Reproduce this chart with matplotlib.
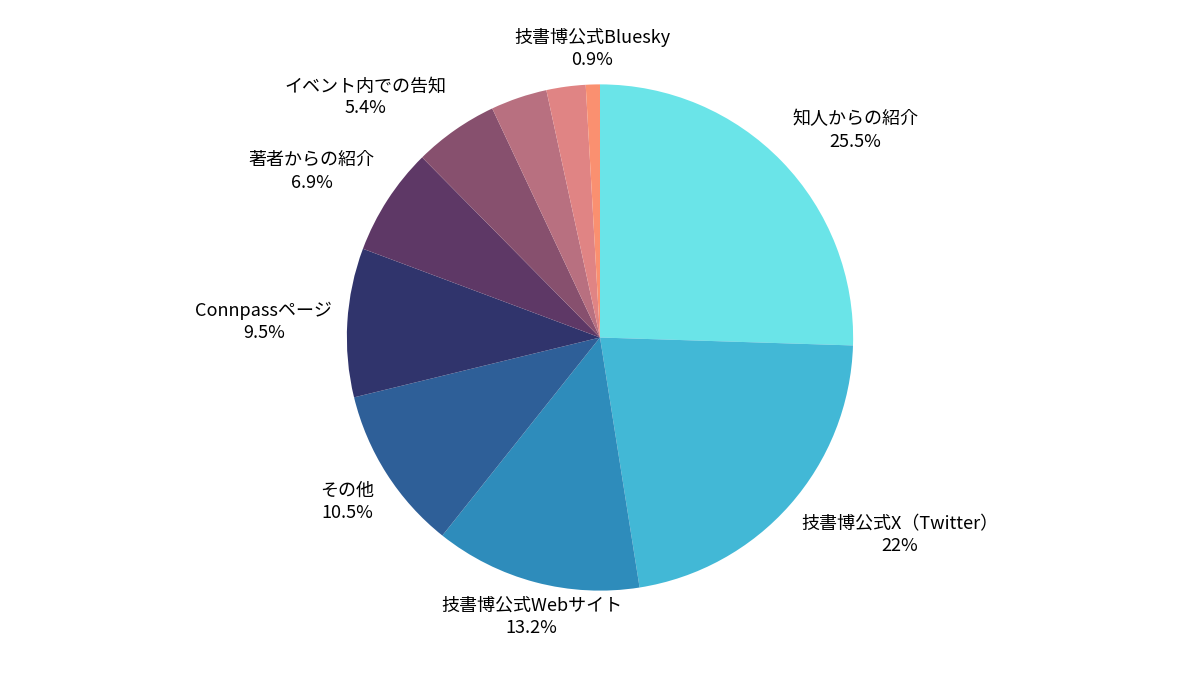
import numpy as np
import matplotlib.pyplot as plt

plt.rcParams['font.family'] = ['Noto Sans CJK JP', 'DejaVu Sans']

labels = ['知人からの紹介', '技書博公式X（Twitter）', '技書博公式Webサイト', 'その他',
          'Connpassページ', '著者からの紹介', 'イベント内での告知', '', '', '技書博公式Bluesky']
values = [25.5, 22, 13.2, 10.5, 9.5, 6.9, 5.4, 3.6, 2.5, 0.9]
colors = ['#6ae4e8', '#42b8d6', '#2e8cbb', '#2e5f98', '#30346c',
          '#5e3866', '#87506e', '#b87080', '#e08484', '#fa9070']

fig = plt.figure(figsize=(12, 6.75), dpi=100)
h = 0.75
ax = fig.add_axes([0.5 - h / 2 * 6.75 / 12, 0.5 - h / 2, h * 6.75 / 12, h])
wedges, _ = ax.pie(values, colors=colors, startangle=90, counterclock=False,
                   wedgeprops=dict(linewidth=0))
for w, lab, v in zip(wedges, labels, values):
    if not lab:
        continue
    ang = np.deg2rad((w.theta1 + w.theta2) / 2)
    x, y = np.cos(ang), np.sin(ang)
    r = 1.06
    ha = 'left' if x > 0.35 else ('right' if x < -0.35 else 'center')
    va = 'bottom' if y > 0.35 else ('top' if y < -0.35 else 'center')
    ax.text(r * x, r * y, f'{lab}\n{v:g}%', ha=ha, va=va, multialignment='center',
            fontsize=13, linespacing=1.3, clip_on=False)
ax.set_xlim(-1, 1)
ax.set_ylim(-1, 1)
ax.set_aspect('equal')
fig.savefig('out.png')
